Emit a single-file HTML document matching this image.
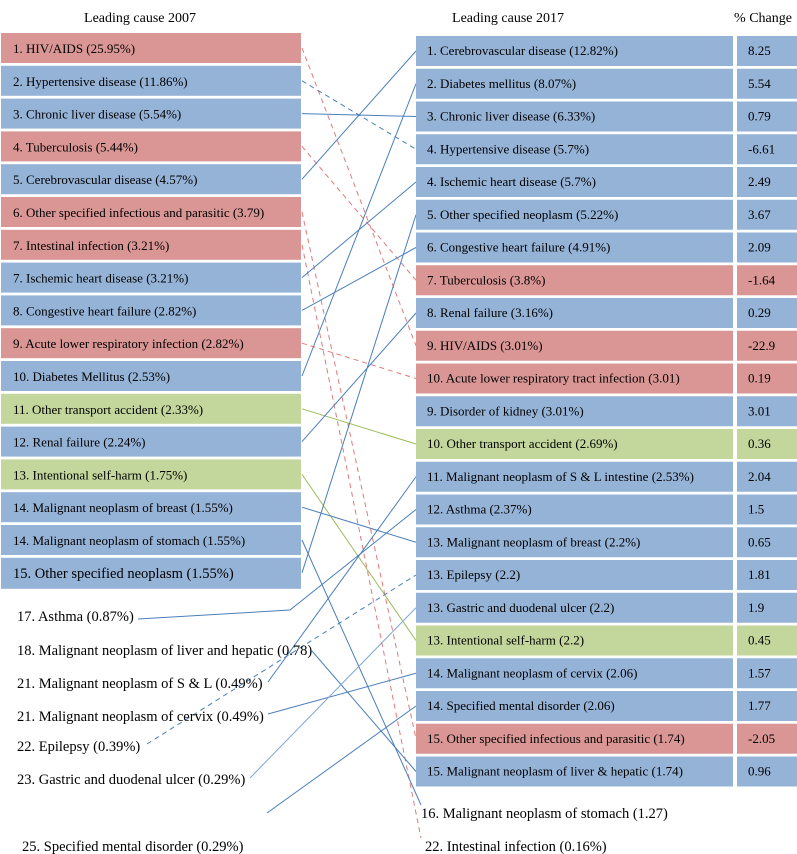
<!DOCTYPE html>
<html><head><meta charset="utf-8">
<style>
body{margin:0;background:#fff;}
svg{display:block;font-family:"Liberation Serif",serif;}
</style></head>
<body>
<svg id="chart" width="797" height="854" viewBox="0 0 797 854">
<text x="140" y="22" font-size="14" text-anchor="middle">Leading cause 2007</text>
<text x="508" y="22" font-size="14" text-anchor="middle">Leading cause 2017</text>
<text x="763" y="22" font-size="14" text-anchor="middle">% Change</text>
<g id="links"></g>
<g id="boxes"></g>
</svg>
<script>
const leftLabels=["1. HIV/AIDS  (25.95%)","2. Hypertensive disease (11.86%)","3. Chronic liver disease (5.54%)","4. Tuberculosis (5.44%)","5. Cerebrovascular disease (4.57%)","6. Other specified infectious and parasitic (3.79)","7. Intestinal infection (3.21%)","7. Ischemic heart disease (3.21%)","8. Congestive heart failure (2.82%)","9. Acute lower respiratory infection (2.82%)","10. Diabetes Mellitus (2.53%)","11. Other transport accident (2.33%)","12. Renal failure (2.24%)","13. Intentional self-harm (1.75%)","14. Malignant neoplasm of breast (1.55%)","14. Malignant neoplasm of stomach (1.55%)","15. Other specified neoplasm (1.55%)"];
const leftKinds=["r","b","b","r","b","r","r","b","b","r","b","g","b","g","b","b","b"];
const leftExtra=["17. Asthma (0.87%)","18. Malignant neoplasm of liver and hepatic (0.78)","21. Malignant neoplasm of S & L (0.49%)","21. Malignant neoplasm of cervix (0.49%)","22. Epilepsy (0.39%)","23. Gastric and duodenal ulcer (0.29%)","25. Specified mental disorder (0.29%)"];
const rightLabels=["1. Cerebrovascular disease (12.82%)","2. Diabetes mellitus  (8.07%)","3. Chronic liver disease (6.33%)","4. Hypertensive disease (5.7%)","4. Ischemic heart disease (5.7%)","5. Other specified neoplasm (5.22%)","6. Congestive heart failure (4.91%)","7. Tuberculosis (3.8%)","8. Renal failure (3.16%)","9. HIV/AIDS  (3.01%)","10. Acute lower respiratory tract infection (3.01)","9. Disorder of kidney (3.01%)","10. Other transport accident (2.69%)","11. Malignant neoplasm of S & L intestine (2.53%)","12. Asthma (2.37%)","13. Malignant neoplasm of breast (2.2%)","13. Epilepsy (2.2)","13. Gastric and duodenal ulcer (2.2)","13. Intentional self-harm (2.2)","14. Malignant neoplasm of cervix (2.06)","14. Specified mental disorder (2.06)","15. Other specified infectious and parasitic (1.74)","15. Malignant neoplasm of liver & hepatic (1.74)"];
const rightKinds=["b","b","b","b","b","b","b","r","b","r","r","b","g","b","b","b","b","b","g","b","b","r","b"];
const changes=["8.25","5.54","0.79","-6.61","2.49","3.67","2.09","-1.64","0.29","-22.9","0.19","3.01","0.36","2.04","1.5","0.65","1.81","1.9","0.45","1.57","1.77","-2.05","0.96"];
const rightExtra=["16. Malignant neoplasm of stomach (1.27)","22. Intestinal infection (0.16%)"];
// links: from index (0-16 left boxes, 17+ left extra), to index (0-22 right boxes, 23+ right extra)
const linkFrom=[0,1,2,3,4,5,6,7,8,9,10,11,12,13,14,15,16,17,18,19,20,21,22,23];
const linkTo  =[9,3,2,7,0,21,24,4,6,10,1,12,8,18,15,23,5,14,22,13,19,16,17,20];
const linkStyle=["rd","bd","b","rd","b","rd","rd","b","b","rd","b","g","b","g","b","b","b","b","b","b","b","bd","lb","b"];

const NS="http://www.w3.org/2000/svg";
const fills={r:"#d99694",b:"#95b3d7",g:"#c3d69b"};
const L0=33,LP=32.8,R0=36,RP=32.75;
const ly=i=>L0+i*LP, ry=i=>R0+i*RP;
const leftExtraY=[616,650,683,716,746,779,846];
const leftExtraX=[17,17,17,17,17,17,22];
const leftExtraAnchor=[[138,619],[312,651],[268,682],[268,714],[147,744],[250,778],[267,813]];
const rightExtraY=[813,846];
const boxes=document.getElementById('boxes'),links=document.getElementById('links');
function mk(tag,attrs,parent){const e=document.createElementNS(NS,tag);for(const k in attrs)e.setAttribute(k,attrs[k]);parent.appendChild(e);return e;}
leftLabels.forEach((t,i)=>{
  const h=i===leftLabels.length-1?31:30;
  const r=mk('rect',{x:1,y:ly(i),width:300,height:h,fill:fills[leftKinds[i]]},boxes);
  
  
  const tx=mk('text',{x:13,y:ly(i)+20,'font-size':i===16?14.5:13},boxes);tx.textContent=t;
  
  
});
leftExtra.forEach((t,i)=>{
  const tx=mk('text',{x:leftExtraX[i],y:leftExtraY[i]+5,'font-size':14.5},boxes);tx.textContent=t;
  
  
});
rightLabels.forEach((t,i)=>{
  const r=mk('rect',{x:416,y:ry(i),width:317,height:30,fill:fills[rightKinds[i]]},boxes);
  
  
  const tx=mk('text',{x:427,y:ry(i)+19,'font-size':13},boxes);tx.textContent=t;
  
  
  const c=mk('rect',{x:737,y:ry(i),width:60,height:30,fill:fills[rightKinds[i]]},boxes);
  
  
  const ct=mk('text',{x:748,y:ry(i)+19,'font-size':13},boxes);ct.textContent=changes[i];
  
  
});
rightExtra.forEach((t,i)=>{
  const tx=mk('text',{x:421+(i?4:0),y:rightExtraY[i]+5,'font-size':14.5},boxes);tx.textContent=t;
  
  
});
const lstyle={b:["#4a7ebb",""],bd:["#4a7ebb","5,4"],rd:["#e07b7b","5,4"],g:["#9bbb59",""],lb:["#7ea6d8",""]};
linkFrom.forEach((f,i)=>{
  let x1,y1,x2,y2;
  if(f<17){x1=302;y1=ly(f)+15;}else{[x1,y1]=leftExtraAnchor[f-17];}
  const t=linkTo[i];
  if(t<23){x2=416;y2=ry(t)+15;}else{x2=421;y2=rightExtraY[t-23]-8;}
  const s=lstyle[linkStyle[i]];
  let pts=x1+','+y1+' ';
  if(f===17){pts+='290,610 ';}
  pts+=x2+','+y2;
  const ln=mk('polyline',{points:pts,fill:'none',stroke:s[0],'stroke-width':1,'stroke-dasharray':s[1]},links);
  
  
});
</script>
</body></html>
